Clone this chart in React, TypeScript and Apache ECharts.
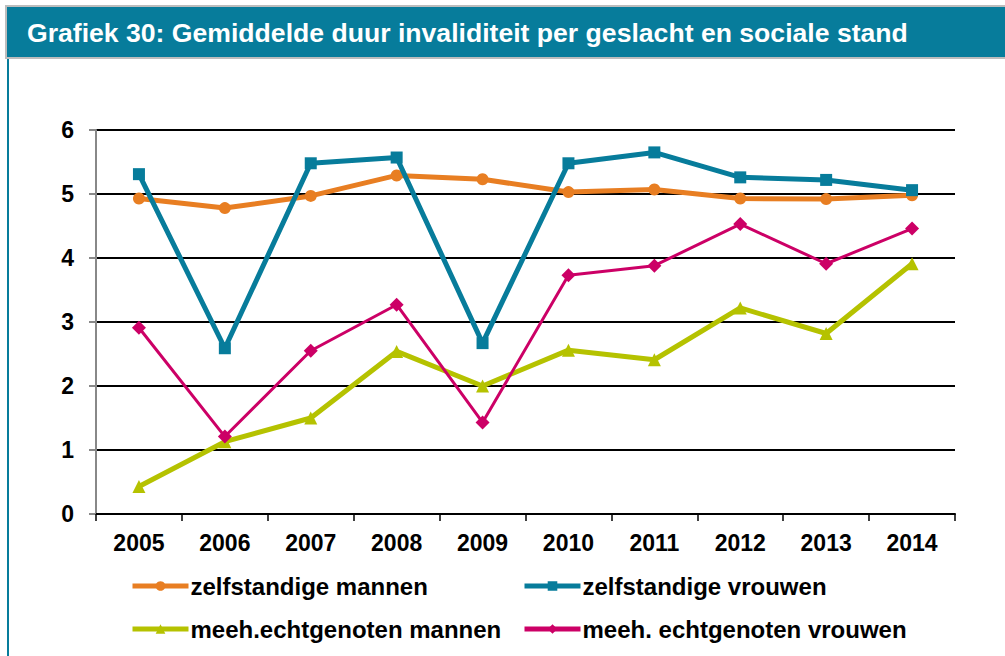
import React, { useEffect, useRef } from "react";
import * as echarts from "echarts";

const years = ["2005", "2006", "2007", "2008", "2009", "2010", "2011", "2012", "2013", "2014"];
const zelfMannen = [4.93, 4.78, 4.97, 5.29, 5.23, 5.03, 5.07, 4.93, 4.92, 4.98];
const zelfVrouwen = [5.31, 2.59, 5.48, 5.57, 2.67, 5.48, 5.65, 5.26, 5.22, 5.06];
const meehMannen = [0.43, 1.13, 1.5, 2.54, 2.0, 2.56, 2.41, 3.22, 2.82, 3.91];
const meehVrouwen = [2.91, 1.21, 2.55, 3.27, 1.43, 3.73, 3.88, 4.53, 3.91, 4.46];
const seriesNames = [
  "zelfstandige mannen",
  "zelfstandige vrouwen",
  "meeh.echtgenoten mannen",
  "meeh. echtgenoten vrouwen",
];
const yTicks = { min: 0, max: 6, interval: 1 };

const FONT = "'Liberation Sans', Arial, sans-serif";
const TEAL = "#077c9b";
const ORANGE = "#e87e22";
const GREEN = "#b5c200";
const MAGENTA = "#cc0066";

export default function App() {
  const ref = useRef<HTMLDivElement>(null);
  useEffect(() => {
    if (!ref.current) return;
    const chart = echarts.init(ref.current, undefined, { renderer: "svg" });
    const legendBase = {
      itemWidth: 56,
      itemHeight: 12,
      itemGap: 0,
      lineStyle: { width: 5 },
      textStyle: { fontFamily: FONT, fontSize: 24, fontWeight: "bold", color: "#000", padding: [0, 0, 0, -3] },
      padding: 0,
    };
    chart.setOption({
      animation: false,
      backgroundColor: "#fff",
      graphic: [
        {
          type: "rect",
          shape: { x: 6, y: 6, width: 1010, height: 52 },
          style: { fill: TEAL, stroke: "#bdbdbd", lineWidth: 2 },
        },
        {
          type: "line",
          shape: { x1: 8, y1: 59, x2: 8, y2: 660 },
          style: { stroke: TEAL, lineWidth: 2 },
        },
        {
          type: "text",
          x: 27,
          y: 33,
          style: {
            text: "Grafiek 30: Gemiddelde duur invaliditeit per geslacht en sociale stand",
            fill: "#fff",
            font: `bold 26.6px ${FONT}`,
            verticalAlign: "middle",
          },
        },
      ],
      legend: [
        { ...legendBase, left: 130, top: 574, data: [seriesNames[0]] },
        { ...legendBase, left: 522, top: 574, data: [seriesNames[1]] },
        { ...legendBase, left: 130, top: 617, data: [seriesNames[2]] },
        { ...legendBase, left: 522, top: 617, data: [seriesNames[3]] },
      ],
      grid: { left: 96, right: 50, top: 130, bottom: 142, containLabel: false },
      xAxis: {
        type: "category",
        data: years,
        boundaryGap: true,
        axisLine: { show: true, lineStyle: { color: "#000", width: 2 } },
        axisTick: { show: true, length: 7, lineStyle: { color: "#000", width: 1.5 } },
        axisLabel: { margin: 17, fontFamily: FONT, fontSize: 23, fontWeight: "bold", color: "#000" },
        splitLine: { show: false },
      },
      yAxis: {
        type: "value",
        min: yTicks.min,
        max: yTicks.max,
        interval: yTicks.interval,
        axisLine: { show: true, lineStyle: { color: "#888", width: 2 } },
        axisTick: { show: true, length: 7, lineStyle: { color: "#888", width: 2 } },
        axisLabel: { margin: 22, fontFamily: FONT, fontSize: 23, fontWeight: "bold", color: "#000" },
        splitLine: { show: true, lineStyle: { color: "#000", width: 2 } },
      },
      series: [
        {
          name: seriesNames[0],
          type: "line",
          data: zelfMannen,
          symbol: "circle",
          symbolSize: 12,
          lineStyle: { color: ORANGE, width: 5 },
          itemStyle: { color: ORANGE },
          z: 3,
        },
        {
          name: seriesNames[1],
          type: "line",
          data: zelfVrouwen,
          symbol: "rect",
          symbolSize: 12,
          lineStyle: { color: TEAL, width: 5 },
          itemStyle: { color: TEAL },
          z: 4,
        },
        {
          name: seriesNames[2],
          type: "line",
          data: meehMannen,
          symbol: "triangle",
          symbolSize: 13,
          lineStyle: { color: GREEN, width: 5 },
          itemStyle: { color: GREEN },
          z: 2,
        },
        {
          name: seriesNames[3],
          type: "line",
          data: meehVrouwen,
          symbol: "diamond",
          symbolSize: 14,
          lineStyle: { color: MAGENTA, width: 3 },
          itemStyle: { color: MAGENTA },
          z: 5,
        },
      ],
    });
    return () => chart.dispose();
  }, []);
  return <div ref={ref} style={{ width: 1005, height: 656, position: "absolute", left: 0, top: 0 }} />;
}
